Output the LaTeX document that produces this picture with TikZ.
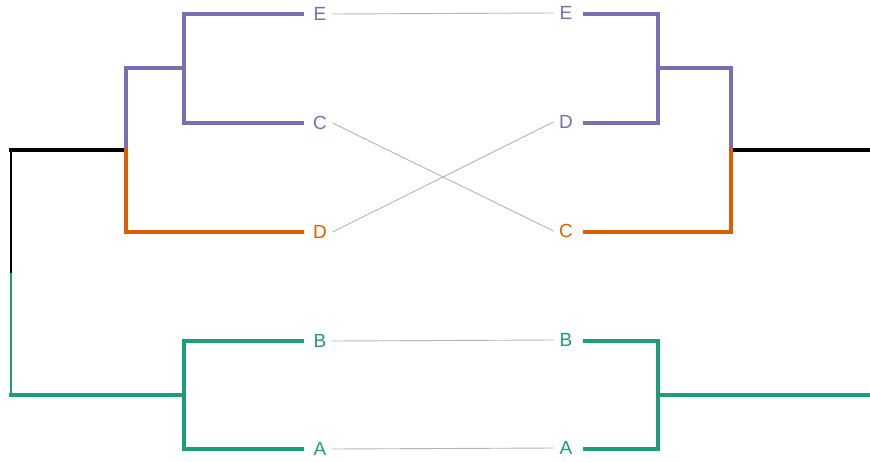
\documentclass[tikz,border=0pt]{standalone}
\usepackage{fontspec}
\setmainfont{Liberation Sans}
\definecolor{purp}{HTML}{7570B3}
\definecolor{oran}{HTML}{D95F02}
\definecolor{gren}{HTML}{1B9E77}
\definecolor{tangle}{HTML}{B4B4B4}
\tikzset{
  branch/.style={line width=4.8pt, line join=miter, line cap=rect},
  rootline/.style={line width=2.6pt},
  leaf/.style={font=\fontsize{19}{19}\selectfont, inner xsep=5.5pt, inner ysep=0pt,
               text height=13.6pt, text depth=0pt, anchor=center},
  link/.style={draw=tangle, line width=0.9pt}
}
\begin{document}
\begin{tikzpicture}[x=1pt, y=-1pt]
\useasboundingbox (0,0) rectangle (870,461);

% leaf labels, left tree
\node[leaf, text=purp] (lE) at (320,14) {E};
\node[leaf, text=purp] (lC) at (320,123) {C};
\node[leaf, text=oran] (lD) at (320,232) {D};
\node[leaf, text=gren] (lB) at (320,341) {B};
\node[leaf, text=gren] (lA) at (320,449) {A};

% leaf labels, right tree
\node[leaf, text=purp] (rE) at (566,13) {E};
\node[leaf, text=purp] (rD) at (566,122) {D};
\node[leaf, text=oran] (rC) at (566,231) {C};
\node[leaf, text=gren] (rB) at (566,340) {B};
\node[leaf, text=gren] (rA) at (566,448) {A};

% internal vertices
\coordinate (lroot) at (11,272.5);
\coordinate (lp) at (126,150);
\coordinate (lec) at (184,68);
\coordinate (lba) at (184,395);
\coordinate (rp) at (731,150);
\coordinate (red) at (658,68);
\coordinate (rba) at (658,395);

% left tree
\draw[rootline, black] (11,150) -- (lroot);
\draw[rootline, gren] (lroot) -- (11,395);
\draw[branch, black] (11,150) -- (lp);
\draw[branch, gren] (11,395) -- (lba);
\draw[branch, purp] (lp) -- (126,68) -- (lec);
\draw[branch, oran] (lp) -- (126,232) -- (302,232);
\draw[branch, purp] (302,14) -- (184,14) -- (184,123) -- (302,123);
\draw[branch, gren] (302,341) -- (184,341) -- (184,449) -- (302,449);

% right tree
\draw[branch, black] (rp) -- (870,150);
\draw[branch, gren] (rba) -- (870,395);
\draw[branch, purp] (rp) -- (731,68) -- (red);
\draw[branch, oran] (rp) -- (731,232) -- (585,232);
\draw[branch, purp] (585,14) -- (658,14) -- (658,123) -- (585,123);
\draw[branch, gren] (585,341) -- (658,341) -- (658,449) -- (585,449);

% links between matching leaves
\draw[link] (lE.east) -- (rE.west);
\draw[link] (lC.east) -- (rC.west);
\draw[link] (lD.east) -- (rD.west);
\draw[link] (lB.east) -- (rB.west);
\draw[link] (lA.east) -- (rA.west);
\end{tikzpicture}
\end{document}
